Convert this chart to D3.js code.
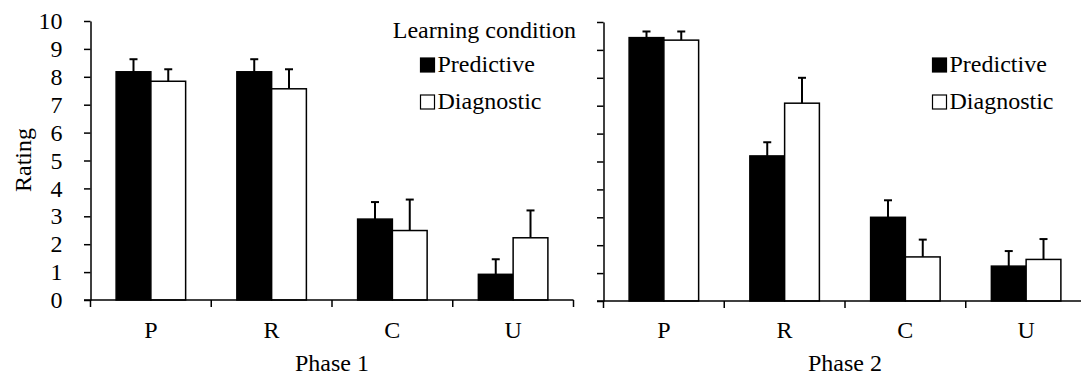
<!DOCTYPE html>
<html>
<head>
<meta charset="utf-8">
<script src="https://cdn.jsdelivr.net/npm/d3@7"></script>
<style>
  html, body { margin: 0; padding: 0; background: #fff; }
  svg { display: block; }
</style>
</head>
<body>
<svg id="chart" width="1081" height="376"></svg>
<script>
// Stimulus categories and learning-condition series
const categories = ["P", "R", "C", "U"];
const seriesNames = ["Predictive", "Diagnostic"];
const yTicks = [0, 1, 2, 3, 4, 5, 6, 7, 8, 9, 10];

// Mean ratings and standard errors, Phase 1
const phase1Predictive = [8.18, 8.18, 2.90, 0.92];
const phase1PredictiveErr = [0.45, 0.45, 0.61, 0.54];
const phase1Diagnostic = [7.84, 7.57, 2.49, 2.23];
const phase1DiagnosticErr = [0.43, 0.70, 1.11, 0.98];

// Mean ratings and standard errors, Phase 2
const phase2Predictive = [9.44, 5.20, 3.00, 1.25];
const phase2PredictiveErr = [0.22, 0.49, 0.61, 0.54];
const phase2Diagnostic = [9.35, 7.09, 1.58, 1.49];
const phase2DiagnosticErr = [0.31, 0.91, 0.62, 0.73];

const FONT_FAMILY = "'Liberation Serif', 'Times New Roman', serif";
const FONT = 24;
const fills = { Predictive: "#000", Diagnostic: "#fff" };

const svg = d3.select("#chart")
  .attr("font-family", FONT_FAMILY)
  .attr("font-size", FONT);

function label(sel) {
  return sel.attr("font-family", FONT_FAMILY).attr("font-size", FONT).attr("fill", "#000");
}

function drawPanel(opts) {
  const { x0, x1, yBottom, yTop, title, pred, predErr, diag, diagErr, showYLabels, legend } = opts;
  const g = svg.append("g");

  const x = d3.scaleBand().domain(categories).range([x0, x1]).paddingInner(0).paddingOuter(0);
  const xs = d3.scaleBand().domain(seriesNames).range([0, x.bandwidth()]).paddingInner(0).paddingOuter(0.737);
  const y = d3.scaleLinear().domain([0, 10]).range([yBottom, yTop]);

  const rows = categories.map((c, i) => ({
    cat: c,
    vals: [
      { s: "Predictive", v: pred[i], e: predErr[i] },
      { s: "Diagnostic", v: diag[i], e: diagErr[i] }
    ]
  }));

  // Error bars (upper half only), drawn behind the bars
  const eb = g.append("g");
  rows.forEach(r => r.vals.forEach(d => {
    const cx = x(r.cat) + xs(d.s) + xs.bandwidth() / 2;
    eb.append("line")
      .attr("x1", cx).attr("x2", cx)
      .attr("y1", y(d.v)).attr("y2", y(d.v + d.e))
      .attr("stroke", "#000").attr("stroke-width", 2);
    eb.append("line")
      .attr("x1", cx - 4).attr("x2", cx + 4)
      .attr("y1", y(d.v + d.e)).attr("y2", y(d.v + d.e))
      .attr("stroke", "#000").attr("stroke-width", 2);
  }));

  // Bars
  rows.forEach(r => {
    g.selectAll(null).data(r.vals).enter().append("rect")
      .attr("x", d => x(r.cat) + xs(d.s))
      .attr("y", d => y(d.v))
      .attr("width", xs.bandwidth())
      .attr("height", d => y(0) - y(d.v))
      .attr("fill", d => fills[d.s])
      .attr("stroke", "#000")
      .attr("stroke-width", 1.5);
  });

  // Y axis
  const yAxis = d3.axisLeft(y).tickValues(yTicks).tickSize(6.5).tickSizeOuter(0)
    .tickFormat(showYLabels ? d3.format("d") : "");
  const ya = g.append("g").attr("transform", `translate(${x0},0)`).call(yAxis);
  ya.select(".domain").attr("stroke", "#000").attr("stroke-width", 1.5);
  ya.selectAll(".tick line").attr("stroke", "#000").attr("stroke-width", 1.5);
  ya.selectAll(".tick text").attr("x", -28).call(label);

  // X axis line with category boundary ticks
  g.append("line")
    .attr("x1", x0 - 6.5).attr("x2", x1)
    .attr("y1", y(0)).attr("y2", y(0))
    .attr("stroke", "#000").attr("stroke-width", 1.5);
  const bounds = categories.map(c => x(c)).concat([x1]);
  g.selectAll(null).data(bounds).enter().append("line")
    .attr("x1", d => d).attr("x2", d => d)
    .attr("y1", y(0)).attr("y2", y(0) + 7)
    .attr("stroke", "#000").attr("stroke-width", 1.5);

  // Category labels
  g.selectAll(null).data(categories).enter().append("text")
    .attr("x", d => x(d) + x.bandwidth() / 2)
    .attr("y", 338)
    .attr("text-anchor", "middle")
    .call(label)
    .text(d => d);

  // Panel title under the axis
  g.append("text")
    .attr("x", (x0 + x1) / 2)
    .attr("y", 371)
    .attr("text-anchor", "middle")
    .call(label)
    .text(title);

  // Legend
  if (legend) {
    const lg = g.append("g");
    if (legend.heading) {
      lg.append("text")
        .attr("x", legend.headingRight).attr("y", 38)
        .attr("text-anchor", "end")
        .call(label)
        .text(legend.heading);
    }
    seriesNames.forEach((s, i) => {
      const by = 72 + i * 37;
      lg.append("rect")
        .attr("x", legend.x).attr("y", by - 14)
        .attr("width", 14).attr("height", 14)
        .attr("fill", fills[s]).attr("stroke", "#000").attr("stroke-width", 1.2);
      lg.append("text")
        .attr("x", legend.x + 17).attr("y", by)
        .call(label)
        .text(s);
    });
  }
  return g;
}

drawPanel({
  x0: 90.5, x1: 573.5, yBottom: 300, yTop: 21,
  title: "Phase 1",
  pred: phase1Predictive, predErr: phase1PredictiveErr,
  diag: phase1Diagnostic, diagErr: phase1DiagnosticErr,
  showYLabels: true,
  legend: { x: 420.5, heading: "Learning condition", headingRight: 576 }
});

drawPanel({
  x0: 603.5, x1: 1086.5, yBottom: 301, yTop: 22,
  title: "Phase 2",
  pred: phase2Predictive, predErr: phase2PredictiveErr,
  diag: phase2Diagnostic, diagErr: phase2DiagnosticErr,
  showYLabels: false,
  legend: { x: 932.5 }
});

// Shared y-axis title
svg.append("text")
  .attr("transform", "translate(31,160) rotate(-90)")
  .attr("text-anchor", "middle")
  .call(label)
  .text("Rating");
</script>
</body>
</html>
